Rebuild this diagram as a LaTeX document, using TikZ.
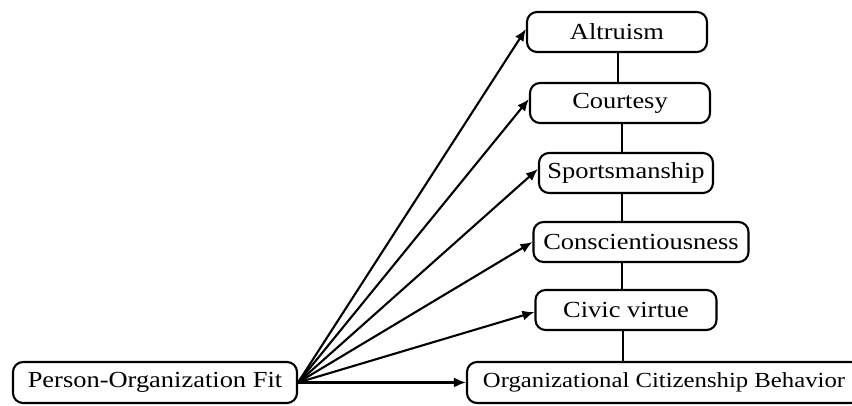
\documentclass[tikz,border=0pt]{standalone}
\usepackage{fontspec}
\setmainfont[FakeStretch=1.15]{Liberation Serif}
\usetikzlibrary{arrows.meta}
\begin{document}
\begin{tikzpicture}[x=1pt,y=-1pt,
  box/.style={draw=black, line width=2.1pt, rounded corners=10pt, fill=white,
    inner sep=0pt, minimum height=40pt, font=\fontsize{23}{25}\selectfont},
  link/.style={line width=2.1pt},
  arr/.style={line width=2.1pt, -{Latex[length=12pt,width=10pt]}}]
\clip (0,0) rectangle (852,406);
\fill[white] (0,0) rectangle (852,406);
\node[box, minimum width=180pt] (alt) at (617,32) {Altruism};
\node[box, minimum width=180pt] (cou) at (620,103) {Courtesy};
\node[box, minimum width=174pt] (spo) at (626,173) {Sportsmanship};
\node[box, minimum width=215pt] (con) at (641,242) {Conscientiousness};
\node[box, minimum width=181pt] (civ) at (626,310) {Civic virtue};
\node[box, minimum width=394pt, minimum height=41pt, font=\fontsize{21.5}{24}\selectfont] (ocb) at (664,382.5) {Organizational Citizenship Behavior};
\node[box, minimum width=284pt, minimum height=41pt] (pof) at (155,382.5) {Person-Organization Fit};
\coordinate (civb) at ([xshift=-3pt]civ.south);
\draw[link] ([xshift=1pt]alt.south) -- ([xshift=-2pt]cou.north);
\draw[link] ([xshift=2pt]cou.south) -- ([xshift=-4pt]spo.north);
\draw[link] ([xshift=-4pt]spo.south) -- ([xshift=-19pt]con.north);
\draw[link] ([xshift=-19pt]con.south) -- ([xshift=-4pt]civ.north);
\draw[link] (civb) -- (civb |- ocb.north);
\draw[arr] (pof.east) -- ([yshift=3pt]alt.west);
\draw[arr] (pof.east) -- ([yshift=4pt]cou.west);
\draw[arr] (pof.east) -- ([yshift=4pt]spo.west);
\draw[arr] (pof.east) -- (con.west);
\draw[arr] (pof.east) -- ([yshift=-2pt]civ.west);
\draw[arr] (pof.east) -- (ocb.west);
\end{tikzpicture}
\end{document}
